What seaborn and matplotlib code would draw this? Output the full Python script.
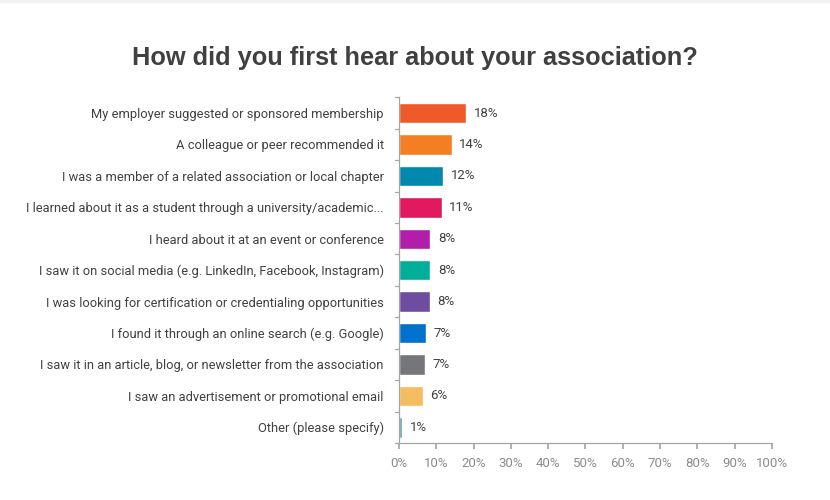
import matplotlib
matplotlib.use("Agg")
import matplotlib.pyplot as plt
import seaborn as sns
import pandas as pd

categories = [
    "My employer suggested or sponsored membership",
    "A colleague or peer recommended it",
    "I was a member of a related association or local chapter",
    "I learned about it as a student through a university/academic...",
    "I heard about it at an event or conference",
    "I saw it on social media (e.g. LinkedIn, Facebook, Instagram)",
    "I was looking for certification or credentialing opportunities",
    "I found it through an online search (e.g. Google)",
    "I saw it in an article, blog, or newsletter from the association",
    "I saw an advertisement or promotional email",
    "Other (please specify)",
]
shares = [18.0, 14.1, 11.8, 11.4, 8.45, 8.45, 8.2, 7.3, 7.1, 6.45, 0.9]
bar_colors = [
    "#EF5A2B", "#F47F22", "#0089AD", "#E1195F", "#B01EAB", "#00AF99",
    "#6E4C9F", "#0071CD", "#75767A", "#F6BD60", "#5FA3B8",
]
x_ticks = list(range(0, 101, 10))

df = pd.DataFrame({"category": categories, "share": shares})

sns.set_theme(style="white")
plt.rcParams["font.family"] = ["Roboto", "DejaVu Sans"]

fig = plt.figure(figsize=(8.3, 5.0), dpi=100)
fig.patch.set_facecolor("white")
ax = fig.add_axes([0.4807, 0.114, 0.4494, 0.6914])

sns.barplot(
    data=df, y="category", x="share", hue="category",
    palette=bar_colors, orient="h", width=0.65, legend=False,
    saturation=1, ax=ax,
)

ax.set_xlim(0, 100)
ax.set_ylim(len(categories) - 0.5, -0.5)
ax.set_xticks(x_ticks)
ax.set_xticklabels([f"{t}%" for t in x_ticks], color="#8C8C8C", fontsize=9.5)
ax.set_xlabel("")
ax.set_ylabel("")
ax.tick_params(axis="y", labelsize=9.3, labelcolor="#404040", length=0, pad=11)
ax.tick_params(axis="x", length=4, color="#A6A6A6", direction="out", pad=6,
               bottom=True)

# category boundary ticks on the left axis
for b in [i - 0.5 for i in range(len(categories) + 1)]:
    ax.plot([-1.2, 0], [b, b], color="#A6A6A6", lw=0.9, clip_on=False,
            transform=ax.transData)

for side in ["top", "right"]:
    ax.spines[side].set_visible(False)
for side in ["left", "bottom"]:
    ax.spines[side].set_color("#A6A6A6")
    ax.spines[side].set_linewidth(0.9)

for i, v in enumerate(shares):
    ax.text(v + 2.0, i, f"{v:.0f}%", va="center", ha="left",
            fontsize=9.5, color="#404040")

fig.text(0.5, 0.884, "How did you first hear about your association?",
         ha="center", va="center", fontsize=18.3, fontweight="bold",
         color="#404040", family=["Liberation Sans", "DejaVu Sans"])

# light strip along the top edge
fig.add_artist(plt.Rectangle((0, 0.994), 1, 0.006, transform=fig.transFigure,
                             color="#F0F0F0", lw=0))

fig.savefig("out.png", dpi=100, facecolor="white")
